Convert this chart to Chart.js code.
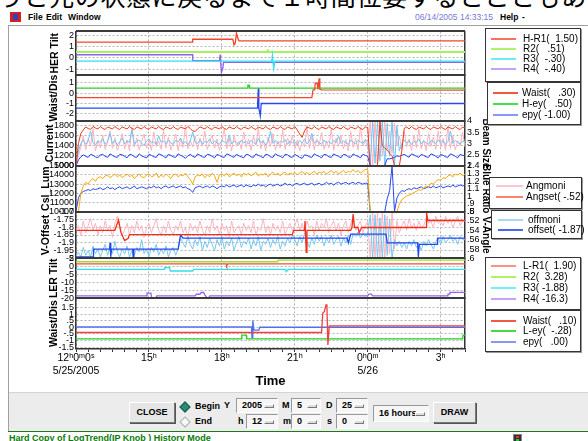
<!DOCTYPE html>
<html lang="ja">
<head>
<meta charset="utf-8">
<title>LogTrend</title>
<script src="https://cdn.jsdelivr.net/npm/chart.js@4.4.1/dist/chart.umd.min.js"></script>
<style>
html,body{margin:0;padding:0;}
body{width:588px;height:441px;overflow:hidden;position:relative;background:#fff;font-family:'Liberation Sans',Arial,sans-serif;color:#000;}
#jp{position:absolute;left:-2px;top:-17px;font:25px/25px 'Noto Sans CJK JP',sans-serif;letter-spacing:0.6px;white-space:nowrap;}
.abs{position:absolute;white-space:pre;}
.menu{font:bold 8.5px/10px 'Liberation Sans',sans-serif;top:12px;}
#date{left:415px;top:12px;font:8.5px/10px 'Liberation Sans',sans-serif;color:#7878d8;}
#hline{left:8px;top:25px;width:580px;height:1px;background:#a0a0a0;}
#vline{left:8px;top:25px;width:1px;height:407px;background:#a0a0a0;}
#icon{left:10px;top:12px;width:11px;height:10px;background:#d02020;}
#icon i{position:absolute;left:3px;top:2px;width:5px;height:6px;background:#3040c0;}
#chartBox{position:absolute;left:36px;top:24px;width:459px;height:368px;}
.leg{position:absolute;background:#fff;border:1px solid #333;box-shadow:1px 1px 0 #999;}
.leg .ln{position:absolute;height:2px;}
.leg .tx{position:absolute;font:10px/11px 'Liberation Sans',sans-serif;white-space:pre;}
#ctrl{position:absolute;left:9px;top:392px;width:579px;height:39px;background:#ececec;border-top:1px solid #d4d4d4;}
.btn{position:absolute;background:#e6e6e6;border:1px solid;border-color:#fff #777 #777 #fff;box-shadow:1px 1px 0 #555;font:bold 9px/19px 'Liberation Sans',sans-serif;text-align:center;}
.fld{position:absolute;background:#f6f6f6;border:1px solid;border-color:#999 #fff #fff #999;font:bold 9px/13px 'Liberation Sans',sans-serif;height:13px;}
.fld span{position:absolute;left:5px;top:0;}
.fld b{position:absolute;right:3px;top:5px;width:8px;height:2px;border:1px solid;border-color:#fff #777 #777 #fff;background:#ddd;}
.lbl{position:absolute;font:bold 9px/12px 'Liberation Sans',sans-serif;}
.dia{position:absolute;width:6px;height:6px;transform:rotate(45deg);}
#status{position:absolute;left:8px;top:431px;width:580px;height:10px;border-top:1px solid #1a7a1a;background:#fff;}
#status span{position:absolute;left:1px;top:1px;font:bold 9px/10px 'Liberation Sans',sans-serif;color:#0a7a0a;white-space:pre;}
#sicon{position:absolute;left:505px;top:2px;width:7px;height:7px;background:#333;border:1px solid #888;}
#sicon i{position:absolute;left:2px;top:1px;width:3px;height:2px;background:#e03030;}
#sicon u{position:absolute;left:2px;top:4px;width:3px;height:2px;background:#30c030;}
</style>
</head>
<body>
<div id="jp">うと元の状態に戻るまで１時間位要するとこともあ</div>
<div id="icon" class="abs"><i></i></div>
<div class="abs menu" style="left:28px">File</div>
<div class="abs menu" style="left:46px">Edit</div>
<div class="abs menu" style="left:68px">Window</div>
<div id="date" class="abs">06/14/2005 14:33:15</div>
<div class="abs menu" style="left:500px">Help</div>
<div class="abs menu" style="left:522px">-</div>
<div id="hline" class="abs"></div>
<div id="vline" class="abs"></div>

<div id="chartBox"><canvas id="c" width="459" height="368"></canvas></div>
<div id="legends"></div>

<div id="ctrl">
  <div class="btn" style="left:120px;top:9px;width:44px;height:19px;">CLOSE</div>
  <div class="dia" style="left:172px;top:10px;background:#2a8a72;border:1px solid #1a5a4a;"></div>
  <div class="lbl" style="left:186px;top:7px;">Begin</div>
  <div class="dia" style="left:172px;top:25px;background:#f8f8f8;border:1px solid #aaa;"></div>
  <div class="lbl" style="left:186px;top:22px;">End</div>
  <div class="lbl" style="left:215px;top:6px;">Y</div>
  <div class="fld" style="left:227px;top:5px;width:40px;"><span>2005</span><b></b></div>
  <div class="lbl" style="left:273px;top:6px;">M</div>
  <div class="fld" style="left:282px;top:5px;width:28px;"><span>5</span><b></b></div>
  <div class="lbl" style="left:317px;top:6px;">D</div>
  <div class="fld" style="left:327px;top:5px;width:30px;"><span>25</span><b></b></div>
  <div class="lbl" style="left:229px;top:22px;">h</div>
  <div class="fld" style="left:237px;top:21px;width:30px;"><span>12</span><b></b></div>
  <div class="lbl" style="left:274px;top:22px;">m</div>
  <div class="fld" style="left:282px;top:21px;width:28px;"><span>0</span><b></b></div>
  <div class="lbl" style="left:318px;top:22px;">s</div>
  <div class="fld" style="left:327px;top:21px;width:30px;"><span>0</span><b></b></div>
  <div class="fld" style="left:364px;top:12px;width:54px;height:15px;line-height:15px;"><span>16 hours</span><b style="top:6px"></b></div>
  <div class="btn" style="left:424px;top:9px;width:41px;height:19px;">DRAW</div>
</div>
<div id="status"><span>Hard Copy of LogTrend(IP Knob ) History Mode</span><div id="sicon"><i></i><u></u></div></div>

<script>
// ---------------- time axis ----------------
const timeTickHours = [0,0.5,1,1.5,2,2.5,3,3.5,4,4.5,5,5.5,6,6.5,7,7.5,8,8.5,9,9.5,10,10.5,11,11.5,12,12.5,13,13.5,14,14.5,15,15.5,16];
const majorHours = [0, 3, 6, 9, 12, 15];
const timeTickLabels = [['12ʰ0ᵐ0ˢ', '5/25/2005'], '15ʰ', '18ʰ', '21ʰ', ['0ʰ0ᵐ', '5/26'], '3ʰ'];
// sampling times (hours after 12:00) for the sampled monitor traces
const hourGrid = Array.from({length: 161}, (_, i) => i / 10);

// ---------------- y tick values / labels ----------------
const herTiltTicks = [-1, 0, 1, 2];
const herTiltLabels = ['-1', '0', '1', '2'];
const hWaistTicks = [-2, -1, 0, 1];
const hWaistLabels = ['-2', '-1', '0', '1'];
const currentTicks = [1000, 1200, 1400, 1600, 1800];
const currentLabels = ['1000', '1200', '1400', '1600', '1800'];
const lumTicks = [10000, 11000, 12000, 13000, 14000, 15000];
const lumLabels = ['10000', '11000', '12000', '13000', '14000', '15000'];
const vOffTicks = [-2, -1.95, -1.9, -1.85, -1.8, -1.75, -1.7];
const vOffLabels = ['-2', '-1.95', '-1.9', '-1.85', '-1.8', '-1.75', '-1.7'];
const lerTiltTicks = [-20, -15, -10, -5, 0, 5];
const lerTiltLabels = ['-20', '-15', '-10', '-5', '0', '5'];
const lWaistTicks = [-1.5, -1, -0.5, 0, 0.5, 1, 1.5];
const lWaistLabels = ['-1.5', '-1', '-.5', '0', '.5', '1', '1.5'];
const beamTicks = [2, 2.5, 3, 3.5, 4];
const beamLabels = ['2', '2.5', '3', '3.5', '4'];
const blueTicks = [0.8, 0.9, 1, 1.1, 1.2, 1.3, 1.4];
const blueLabels = ['.8', '.9', '1', '1.1', '1.2', '1.3', '1.4'];
const vAngTicks = [0.5, 0.52, 0.54, 0.56, 0.58, 0.6];
const vAngLabels = ['.5', '.52', '.54', '.56', '.58', '.6'];

// ---------------- panel 1 : HER Tilt ----------------
const herR1T = [0, 4.8, 4.8, 6.45, 6.5, 6.55, 6.6, 6.65, 6.7, 16];
const herR1V = [1.4, 1.4, 1.65, 1.65, 1.15, 1.3, 2.2, 1.8, 1.5, 1.5];
const herR2T = [0, 7.85, 7.88, 7.95, 16];
const herR2V = [0.51, 0.51, 0.65, 0.51, 0.51];
const herR3T = [0, 8.05, 8.08, 8.13, 8.18, 16];
const herR3V = [-0.3, -0.3, 0.2, -0.95, -0.3, -0.3];
const herR4T = [0, 4.8, 4.8, 5.9, 5.93, 5.98, 6.03, 6.07, 16];
const herR4V = [0.27, 0.27, -0.25, -0.25, 0.28, -1.3, -1.0, -0.4, -0.4];

// ---------------- panel 2 : Waist/Dis (HER) ----------------
const hWaistT = [0, 9.7, 9.75, 9.82, 9.84, 9.92, 9.95, 10.0, 10.03, 10.1, 16];
const hWaistV = [-0.42, -0.42, 0.33, 0.33, 0.97, 0.97, 0.38, 1.45, 0.38, 0.32, 0.3];
const hEyT = [0, 7.05, 7.07, 7.12, 7.14, 16];
const hEyV = [0.5, 0.5, 0.78, 0.78, 0.5, 0.5];
const hEpyT = [0, 7.45, 7.47, 7.5, 7.52, 7.58, 7.62, 16];
const hEpyV = [-1.45, -1.45, -1.0, 0.48, -1.45, -2.2, -1.0, -1.0];

// ---------------- panel 3 : Current ----------------
const curRed = [
 1000,1450,1650,1720,1780,1750,1730,1790,1760,1740,
 1790,1750,1730,1780,1760,1740,1790,1750,1730,1780,
 1760,1740,1790,1750,1730,1780,1760,1740,1790,1750,
 1730,1780,1760,1740,1790,1750,1730,1780,1760,1740,
 1790,1750,1730,1780,1760,1740,1790,1750,1700,1690,
 1740,1780,1760,1740,1790,1750,1730,1780,1760,1740,
 1790,1750,1730,1780,1760,1740,1790,1750,1730,1780,
 1760,1740,1790,1750,1730,1780,1760,1740,1790,1750,
 1730,1780,1760,1740,1790,1750,1730,1780,1760,1740,
 1790,1720,1640,1570,1700,1780,1760,1740,1790,1750,
 1730,1780,1760,1740,1790,1750,1730,1780,1760,1740,
 1790,1750,1730,1780,1760,1740,1790,1750,1730,1780,
 1770,1000,1000,1000,1000,1880,1400,1360,1320,1250,
 1200,1000,1000,1000,1300,1750,1780,1740,1790,1750,
 1730,1780,1760,1740,1790,1750,1730,1780,1760,1740,
 1790,1750,1730,1780,1760,1740,1790,1750,1730,1780,
 1760];
const curBlue = [
 1000,1120,1180,1220,1190,1170,1230,1210,1180,1160,
 1220,1230,1190,1170,1240,1210,1180,1170,1230,1220,
 1190,1160,1230,1220,1180,1170,1240,1200,1180,1160,
 1230,1210,1180,1170,1240,1220,1190,1160,1230,1210,
 1180,1170,1240,1210,1190,1150,1200,1230,1190,1170,
 1240,1210,1180,1170,1230,1220,1190,1160,1230,1210,
 1180,1170,1240,1220,1190,1170,1230,1200,1180,1160,
 1230,1220,1180,1170,1240,1210,1190,1160,1230,1220,
 1180,1170,1240,1210,1190,1160,1230,1220,1180,1170,
 1230,1200,1170,1150,1220,1210,1180,1170,1240,1210,
 1190,1160,1230,1220,1180,1170,1240,1210,1190,1160,
 1230,1220,1180,1170,1240,1210,1190,1160,1230,1210,
 1190,1000,1000,1000,1000,1000,1000,1010,1140,1140,
 1150,1170,1200,1190,1210,1230,1200,1170,1240,1220,
 1190,1170,1230,1210,1180,1170,1240,1220,1190,1160,
 1230,1210,1180,1170,1240,1220,1190,1160,1230,1210,
 1200];
const curSky = [
 1000,1300,1450,1520,1430,1500,1700,1460,1420,1510,
 1470,1540,1430,1490,1650,1450,1510,1420,1480,1560,
 1440,1500,1470,1720,1430,1490,1520,1450,1410,1500,
 1540,1460,1480,1430,1600,1470,1500,1440,1520,1460,
 1430,1510,1480,1560,1440,1490,1420,1500,1680,1470,
 1450,1520,1430,1490,1470,1540,1440,1500,1460,1430,
 1510,1480,1450,1620,1440,1500,1470,1430,1520,1460,
 1490,1440,1510,1470,1430,1550,1460,1500,1420,1480,
 1700,1450,1510,1440,1490,1470,1530,1430,1500,1460,
 1480,1420,1510,1460,1540,1440,1490,1650,1450,1500,
 1470,1430,1520,1460,1490,1440,1510,1470,1600,1450,
 1500,1460,1430,1520,1470,1440,1510,1480,1450,1530,
 1470,1000,1900,1050,1880,1100,1900,1000,1850,1200,
 1900,1000,1800,1300,1450,1520,1460,1500,1430,1490,
 1470,1540,1440,1500,1460,1430,1510,1480,1450,1520,
 1460,1500,1430,1490,1700,1450,1510,1470,1440,1500,
 1480];
const curPink = [
 1000,1200,1380,1600,1320,1550,1400,1750,1300,1500,
 1360,1620,1330,1480,1700,1350,1560,1310,1450,1650,
 1340,1520,1300,1780,1380,1560,1320,1490,1640,1350,
 1530,1310,1680,1390,1500,1330,1720,1360,1580,1320,
 1460,1640,1300,1550,1370,1800,1340,1510,1380,1600,
 1320,1560,1400,1700,1330,1490,1620,1350,1540,1310,
 1480,1750,1340,1560,1300,1620,1390,1500,1330,1680,
 1370,1540,1310,1600,1420,1760,1340,1520,1300,1580,
 1390,1650,1320,1500,1360,1720,1330,1560,1410,1620,
 1340,1520,1300,1480,1380,1800,1350,1590,1320,1540,
 1410,1670,1330,1500,1360,1740,1310,1560,1390,1610,
 1340,1530,1300,1690,1370,1550,1320,1780,1400,1520,
 1350,1900,1000,1900,1000,1900,1200,1880,1300,1700,
 1250,1850,1400,1600,1330,1700,1380,1540,1310,1620,
 1360,1750,1340,1520,1300,1650,1390,1580,1330,1700,
 1370,1550,1310,1800,1350,1600,1320,1510,1400,1680,
 1380];

// ---------------- panel 4 : Csl_Lum ----------------
const lumOrange = [
 10000,10000,12000,12800,13200,13000,13400,13600,13300,13700,
 13800,13600,13900,14000,13700,13900,14100,13800,14000,13700,
 13900,14100,13800,14000,13600,13900,14100,13800,13700,14000,
 14100,13800,13900,14200,13700,14000,13800,14100,13900,13600,
 14000,14100,13800,14000,13900,14200,13800,13500,13000,13800,
 14000,13900,14100,13700,14000,13800,14200,13900,13200,14000,
 14100,13900,14200,13800,14000,14200,13900,14100,13800,14200,
 14000,14200,13900,14100,14300,13900,14100,14000,14200,13800,
 14100,14300,14000,14200,13900,14200,14300,14000,14200,14100,
 14300,14000,14200,14400,14100,14300,14000,14200,14400,14100,
 14300,14200,14400,14100,14300,14500,14200,14400,14100,14300,
 14500,14200,14400,14300,14600,14300,14500,14200,14400,14600,
 14600,10000,10000,10000,10000,10000,10000,10000,10000,10000,
 10000,10000,10000,10800,11300,11500,11700,11800,11900,12100,
 12200,12400,12300,12600,12800,12700,13100,13000,13300,13500,
 13400,13700,13600,13900,14000,13800,14100,14000,14200,13900,
 14100];
const lumBlue = [
 10000,11500,12000,12200,12300,12400,12300,12500,12400,12500,
 12600,12400,12500,12700,12500,12600,12400,12600,12700,12500,
 12600,12700,12500,12600,12800,12500,12600,12700,12600,12500,
 12700,12600,12800,12600,12700,12500,12700,12800,12600,12700,
 12800,12600,12700,12800,12600,12700,12500,12400,12100,12600,
 12700,12800,12600,12700,12800,12600,12800,12700,12500,12700,
 12800,12700,12900,12700,12800,12900,12700,12800,12900,12700,
 12900,12800,12700,12900,12800,13000,12800,12900,12700,12900,
 13000,12800,12900,13000,12800,12900,13100,12900,13000,12800,
 13000,13100,12900,13000,13100,12900,13000,13100,12900,13000,
 13100,12900,13000,13200,13000,13100,12900,13100,13200,13000,
 13100,13200,13000,13100,13200,13000,13200,13100,13000,13100,
 13100,10000,10000,10000,10000,10000,10000,10000,11400,12300,
 15000,10000,11500,12000,12300,12200,12400,12500,12400,12600,
 12500,12600,12700,12500,12600,12700,12600,12800,12600,12700,
 12800,12600,12700,12800,12700,12900,12700,12800,12900,12800,
 12900];

// ---------------- panel 5 : V-Offset / V-Angle ----------------
const angMoni = [
 0.54,0.53,0.55,0.52,0.545,0.53,0.515,0.54,0.525,0.55,
 0.53,0.545,0.52,0.54,0.53,0.555,0.525,0.51,0.535,0.55,
 0.54,0.525,0.55,0.53,0.545,0.52,0.54,0.53,0.555,0.535,
 0.525,0.545,0.53,0.515,0.54,0.55,0.53,0.545,0.52,0.54,
 0.55,0.53,0.54,0.52,0.545,0.535,0.555,0.525,0.54,0.53,
 0.545,0.52,0.54,0.55,0.53,0.545,0.515,0.54,0.53,0.55,
 0.525,0.54,0.53,0.555,0.52,0.545,0.535,0.53,0.55,0.525,
 0.54,0.53,0.545,0.52,0.55,0.535,0.54,0.515,0.545,0.53,
 0.55,0.525,0.54,0.53,0.545,0.52,0.55,0.535,0.525,0.54,
 0.53,0.515,0.54,0.525,0.545,0.52,0.535,0.53,0.55,0.52,
 0.54,0.525,0.535,0.515,0.545,0.53,0.52,0.54,0.525,0.55,
 0.53,0.52,0.545,0.525,0.51,0.54,0.53,0.52,0.545,0.53,
 0.52,0.6,0.5,0.6,0.5,0.6,0.5,0.6,0.51,0.59,
 0.5,0.58,0.52,0.545,0.53,0.52,0.54,0.515,0.535,0.525,
 0.54,0.52,0.535,0.53,0.515,0.525,0.52,0.535,0.51,0.525,
 0.52,0.53,0.51,0.525,0.515,0.535,0.52,0.51,0.53,0.52,
 0.52];
const offMoni = [
 -1.99,-1.96,-1.99,-1.93,-1.98,-1.95,-1.99,-1.92,-1.97,-1.94,
 -1.99,-1.95,-1.91,-1.98,-1.93,-1.97,-1.89,-1.96,-1.99,-1.94,
 -1.97,-1.92,-1.99,-1.95,-1.98,-1.93,-1.96,-1.88,-1.97,-1.94,
 -1.99,-1.93,-1.96,-1.91,-1.98,-1.94,-1.97,-1.92,-1.99,-1.95,
 -1.93,-1.98,-1.94,-1.87,-1.90,-1.93,-1.86,-1.91,-1.94,-1.88,
 -1.92,-1.86,-1.95,-1.89,-1.93,-1.87,-1.91,-1.95,-1.88,-1.92,
 -1.86,-1.94,-1.89,-1.92,-1.87,-1.95,-1.90,-1.86,-1.93,-1.89,
 -1.91,-1.87,-1.94,-1.88,-1.92,-1.86,-1.95,-1.89,-1.91,-1.87,
 -1.93,-1.88,-1.91,-1.86,-1.94,-1.89,-1.92,-1.87,-1.90,-1.85,
 -1.88,-1.92,-1.86,-1.90,-1.84,-1.89,-1.93,-1.87,-1.91,-1.85,
 -1.89,-1.86,-1.92,-1.87,-1.90,-1.85,-1.91,-1.88,-1.86,-1.92,
 -1.87,-1.90,-1.85,-1.91,-1.84,-1.86,-1.83,-1.87,-1.84,-1.86,
 -1.85,-1.72,-2.0,-1.72,-2.0,-1.74,-2.0,-1.72,-1.98,-1.75,
 -2.0,-1.88,-1.92,-1.89,-1.93,-1.90,-1.94,-1.89,-1.92,-1.88,
 -1.93,-1.90,-1.95,-1.89,-1.92,-1.88,-1.91,-1.94,-1.89,-1.87,
 -1.91,-1.86,-1.90,-1.88,-1.85,-1.89,-1.87,-1.91,-1.86,-1.88,
 -1.88];
const offsetT = [0, 0.7, 0.72, 1.38, 1.4, 1.43, 1.46, 2.33, 2.35, 2.38, 4.2, 4.3, 4.4, 11.15, 11.2, 11.3, 12.75, 12.8, 14.05, 14.08, 14.12, 14.85, 14.87, 16];
const offsetV = [-1.99, -1.99, -1.94, -1.94, -1.90, -1.99, -1.94, -1.94, -1.99, -1.94, -1.94, -1.85, -1.87, -1.87, -1.90, -1.845, -1.845, -1.90, -1.90, -1.99, -1.91, -1.91, -1.87, -1.87];
const angsetT = [0, 1.6, 1.7, 1.75, 1.85, 2.0, 2.15, 2.2, 8.9, 8.95, 9.4, 9.42, 9.47, 9.5, 11.3, 11.35, 11.4, 11.45, 11.6, 11.65, 11.75, 14.4, 14.42, 14.47, 16];
const angsetV = [0.54, 0.54, 0.525, 0.518, 0.545, 0.562, 0.557, 0.549, 0.549, 0.540, 0.540, 0.52, 0.587, 0.540, 0.540, 0.534, 0.505, 0.534, 0.534, 0.545, 0.534, 0.534, 0.502, 0.519, 0.519];

// ---------------- panel 6 : LER Tilt ----------------
const lR1T = [0, 6.18, 6.2, 6.24, 16];
const lR1V = [1.6, 1.6, 0.4, 1.6, 1.6];
const lR2T = [0, 8.3, 8.32, 16];
const lR2V = [2.9, 2.9, 3.9, 3.9];
const lR3T = [0, 3.62, 3.65, 3.85, 3.88, 4.8, 4.83, 8.6, 8.63, 8.7, 8.73, 16];
const lR3V = [-1.88, -1.88, -0.8, -0.8, -2.9, -2.9, -1.88, -1.88, -2.8, -2.8, -1.88, -1.88];
const lR4T = [0, 2.88, 2.92, 3.08, 3.12, 3.28, 3.32, 4.9, 4.95, 5.1, 5.15, 5.25, 5.3, 5.4, 5.45, 5.5, 12.0, 12.05, 12.15, 12.2, 15.28, 15.3, 15.36, 15.38, 16];
const lR4V = [-18.5, -18.5, -16.8, -16.8, -20.2, -20.2, -18.5, -18.5, -17.5, -17.5, -16.4, -16.4, -17.9, -20.0, -20.0, -18.5, -18.5, -17.4, -17.4, -18.5, -18.5, -17.4, -17.4, -16.3, -16.3];

// ---------------- panel 7 : Waist/Dis (LER) ----------------
const lWaistT = [0, 10.1, 10.15, 10.22, 10.28, 10.32, 10.36, 10.42, 16];
const lWaistV = [-0.4, -0.4, 1.07, 1.2, 1.7, 1.7, -1.35, 0.1, 0.1];
const lEyT = [0, 6.8, 6.82, 7.0, 7.02, 15.9, 15.92, 16];
const lEyV = [-0.88, -0.88, -0.6, -0.6, -0.88, -0.88, -0.6, -0.6];
const lEpyT = [0, 7.22, 7.24, 7.27, 7.32, 7.52, 7.56, 16];
const lEpyV = [0.02, 0.02, -0.8, 0.52, -0.22, -0.22, 0.0, 0.0];

// ---------------- legends ----------------
const legHer = [['H-R1(  1.50)', '#f87458'], ['R2(   .51)', '#b4f070'], ['R3(  -.30)', '#68f0f0'], ['R4(  -.40)', '#c4a4f4']];
const legHWaist = [['Waist(   .30)', '#f05838'], ['H-ey(   .50)', '#48e048'], ['epy( -1.00)', '#8898f8']];
const legAng = [['Angmoni', '#ffc4cc'], ['Angset( -.52)', '#f88470']];
const legOff = [['offmoni', '#a8d8f8'], ['offset( -1.87)', '#4868f0']];
const legLer = [['L-R1(  1.90)', '#f89484'], ['R2(  3.28)', '#b4f060'], ['R3( -1.88)', '#70f0f0'], ['R4( -16.3)', '#c4a4f8']];
const legLWaist = [['Waist(   .10)', '#f05848'], ['L-ey(  -.28)', '#48d848'], ['epy(   .00)', '#8898f0']];

// ================= rendering =================
const legendLayout = [
  {items: legHer,    left: 485, top: 28,  w: 94, h: 52, lx: 5, lw: 25, tx: 37, rows: [10, 20, 30, 40]},
  {items: legHWaist, left: 487, top: 82,  w: 92, h: 41, lx: 5, lw: 25, tx: 34, rows: [10, 21, 32]},
  {items: legAng,    left: 489, top: 177, w: 91, h: 30, lx: 6, lw: 27, tx: 36, rows: [8, 19]},
  {items: legOff,    left: 491, top: 210, w: 89, h: 27, lx: 6, lw: 25, tx: 36, rows: [9, 19]},
  {items: legLer,    left: 485, top: 257, w: 94, h: 51, lx: 5, lw: 25, tx: 37, rows: [8, 19, 30, 41]},
  {items: legLWaist, left: 485, top: 310, w: 94, h: 40, lx: 5, lw: 25, tx: 37, rows: [10, 20, 31]}
];
const legRoot = document.getElementById('legends');
legendLayout.forEach(L => {
  const box = document.createElement('div');
  box.className = 'leg';
  Object.assign(box.style, {left: L.left + 'px', top: L.top + 'px', width: L.w + 'px', height: L.h + 'px'});
  L.items.forEach((it, k) => {
    const ln = document.createElement('div');
    ln.className = 'ln';
    Object.assign(ln.style, {left: L.lx + 'px', top: (L.rows[k] - 1) + 'px', width: L.lw + 'px', background: it[1]});
    const tx = document.createElement('div');
    tx.className = 'tx';
    tx.textContent = it[0];
    Object.assign(tx.style, {left: L.tx + 'px', top: (L.rows[k] - 6) + 'px'});
    box.appendChild(ln); box.appendChild(tx);
  });
  legRoot.appendChild(box);
});

Chart.defaults.font.family = "'Liberation Sans', 'DejaVu Sans', sans-serif";
Chart.defaults.color = '#000';

const leftPanels = [
  {id: 'y1', title: 'HER Tilt',  min: -1.55, max: 2.35, ticks: herTiltTicks, labels: herTiltLabels, h: 44, tp: 13},
  {id: 'y2', title: 'Waist/Dis', min: -2.7,  max: 1.75, ticks: hWaistTicks,  labels: hWaistLabels,  h: 46, tp: 12},
  {id: 'y3', title: 'Current',   min: 1000,  max: 1900, ticks: currentTicks, labels: currentLabels, h: 45, tp: 8},
  {id: 'y4', title: 'Csl_Lum',   min: 10000, max: 15000, ticks: lumTicks,    labels: lumLabels,     h: 46, tp: 4},
  {id: 'y5', title: 'V-Offset',  min: -2,    max: -1.7, ticks: vOffTicks,    labels: vOffLabels,    h: 47, tp: 4},
  {id: 'y6', title: 'LER Tilt',  min: -20,   max: 5,    ticks: lerTiltTicks, labels: lerTiltLabels, h: 40, tp: 12},
  {id: 'y7', title: 'Waist/Dis', min: -1.65, max: 2.2,  ticks: lWaistTicks,  labels: lWaistLabels,  h: 51, tp: 12}
];
const rightPanels = [
  {id: 'r1', h: 44}, {id: 'r2', h: 46},
  {id: 'r3', title: 'Beam Size',  min: 2,   max: 4,   ticks: beamTicks, labels: beamLabels, h: 45},
  {id: 'r4', title: 'Blue Ratio', min: 0.8, max: 1.4, ticks: blueTicks, labels: blueLabels, h: 46},
  {id: 'r5', title: 'V-Angle',    min: 0.5, max: 0.6, ticks: vAngTicks, labels: vAngLabels, h: 47, reverse: true},
  {id: 'r6', h: 40}, {id: 'r7', h: 51}
];

const scales = {};
leftPanels.forEach((p, i) => {
  scales[p.id] = {
    type: 'linear', position: 'left', stack: 'panels', stackWeight: p.h, weight: 20 - i,
    min: p.min, max: p.max,
    afterFit: s => { s.width = 40; },
    afterBuildTicks: s => { s.ticks = p.ticks.map(v => ({value: v})); },
    ticks: {autoSkip: false, padding: 2, color: '#000', font: {size: 9}, callback: (v, idx) => p.labels[idx]},
    grid: {color: '#b4b4b4', lineWidth: 1, drawTicks: false, tickLength: 0},
    border: {display: true, color: '#333', width: 1.5, dash: [2, 2]},
    title: {display: true, text: p.title, color: '#000', font: {size: 10.5, weight: 'bold'}, padding: {top: p.tp, bottom: 0}}
  };
});
rightPanels.forEach((p, i) => {
  const real = !!p.title;
  scales[p.id] = {
    type: 'linear', position: 'right', stack: 'panels', stackWeight: p.h, weight: i,
    min: real ? p.min : 0, max: real ? p.max : 1, reverse: !!p.reverse,
    afterFit: s => { s.width = 30; },
    afterBuildTicks: s => { if (real) s.ticks = p.ticks.map(v => ({value: v})); },
    ticks: {display: real, autoSkip: false, padding: 2, color: '#000', font: {size: 9}, callback: (v, idx) => real ? p.labels[idx] : ''},
    grid: {display: real, drawOnChartArea: false, drawTicks: false, tickLength: 0},
    border: {display: true, color: '#333', width: 1.5},
    title: {display: real, text: p.title || '', color: '#000', font: {size: 10, weight: 'bold'}, padding: {top: 3, bottom: 0}}
  };
});
scales.x = {
  type: 'linear', position: 'bottom', min: 0, max: 16,
  afterFit: s => { s.height = 43; },
  afterBuildTicks: s => { s.ticks = timeTickHours.map(v => ({value: v})); },
  ticks: {autoSkip: false, maxRotation: 0, minRotation: 0, padding: 0, color: '#000', font: {size: 10.5},
    callback: v => { const k = majorHours.indexOf(v); return k >= 0 ? timeTickLabels[k] : ''; }},
  grid: {color: c => (c.tick && majorHours.includes(c.tick.value)) ? '#b0b0b0' : 'rgba(0,0,0,0)', lineWidth: 1, tickLength: 3, tickColor: '#333'},
  border: {display: true, color: '#333', width: 1.5, dash: [2, 2]},
  title: {display: true, text: 'Time', color: '#000', font: {size: 13, weight: 'bold'}, padding: {top: 2, bottom: 3}}
};

const pts = (ts, vs) => ts.map((t, i) => ({x: t, y: vs[i]}));
const ds = (label, T, V, axis, color, width) => ({
  label, data: pts(T, V), yAxisID: axis, xAxisID: 'x', borderColor: color, backgroundColor: color,
  borderWidth: width || 1, pointRadius: 0, pointHoverRadius: 0, tension: 0, fill: false
});

// earlier entries are drawn on top
const datasets = [
  ds('H-R1', herR1T, herR1V, 'y1', '#f04828', 1.3),
  ds('R3', herR3T, herR3V, 'y1', '#30e0f0', 1.3),
  ds('R4', herR4T, herR4V, 'y1', '#8a60ec', 1.3),
  ds('R2', herR2T, herR2V, 'y1', '#a8f060', 2),

  ds('Waist', hWaistT, hWaistV, 'y2', '#f04830', 1.3),
  ds('H-ey', hEyT, hEyV, 'y2', '#28d028', 1.3),
  ds('epy', hEpyT, hEpyV, 'y2', '#2848f0', 1.3),

  ds('current red', hourGrid, curRed, 'y3', '#f03818', 1),
  ds('current blue', hourGrid, curBlue, 'y3', '#2040f0', 1),
  ds('beam sky', hourGrid, curSky, 'y3', '#74c2f0', 1),
  ds('beam pink', hourGrid, curPink, 'y3', '#ffb2be', 1),

  ds('lum orange', hourGrid, lumOrange, 'y4', '#f8a800', 1),
  ds('lum blue', hourGrid, lumBlue, 'y4', '#2848f0', 1),

  ds('Angset', angsetT, angsetV, 'r5', '#f03018', 1.3),
  ds('offset', offsetT, offsetV, 'y5', '#2048f0', 1.3),
  ds('offmoni', hourGrid, offMoni, 'y5', '#78c8f0', 1),
  ds('Angmoni', hourGrid, angMoni, 'r5', '#ffb4c0', 1),

  ds('L-R1', lR1T, lR1V, 'y6', '#f05038', 1.3),
  ds('R2', lR2T, lR2V, 'y6', '#98e030', 1.3),
  ds('R3', lR3T, lR3V, 'y6', '#30e0f0', 1.3),
  ds('R4', lR4T, lR4V, 'y6', '#9860f0', 1.3),

  ds('Waist', lWaistT, lWaistV, 'y7', '#f04040', 1.3),
  ds('L-ey', lEyT, lEyV, 'y7', '#20d020', 1.3),
  ds('epy', lEpyT, lEpyV, 'y7', '#5070f0', 1.3)
];

const panelFrames = {
  id: 'panelFrames',
  afterDraw(chart) {
    const {ctx, chartArea} = chart;
    ctx.save();
    ctx.strokeStyle = '#3a3a3a';
    ctx.lineWidth = 2;
    Object.values(chart.scales).forEach(s => {
      if (s.position === 'left') {
        const y = Math.round(s.top);
        ctx.beginPath();
        ctx.moveTo(chartArea.left, y);
        ctx.lineTo(chartArea.right, y);
        ctx.stroke();
      }
    });
    ctx.restore();
  }
};

new Chart(document.getElementById('c'), {
  type: 'line',
  data: {datasets},
  options: {
    responsive: false, animation: false, devicePixelRatio: 1, events: [],
    parsing: true, normalized: true,
    layout: {padding: {top: 6, left: 0, right: 0, bottom: 0}},
    plugins: {legend: {display: false}, tooltip: {enabled: false}},
    scales
  },
  plugins: [panelFrames]
});
</script>
</body>
</html>
